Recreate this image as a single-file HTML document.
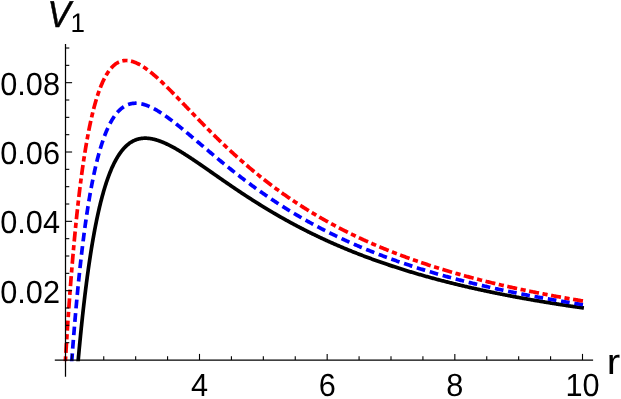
<!DOCTYPE html>
<html><head><meta charset="utf-8"><title>V1</title>
<style>
html,body{margin:0;padding:0;background:#fff;}
body{width:621px;height:399px;overflow:hidden;font-family:"Liberation Sans",sans-serif;}
svg{display:block;}
text{font-family:"Liberation Sans",sans-serif;fill:#000;text-rendering:geometricPrecision;}
</style></head><body>
<svg width="621" height="399" viewBox="0 0 621 399" style="will-change:transform">
<rect width="621" height="399" fill="#fff"/>
<defs><clipPath id="c"><rect x="54.8" y="43" width="540" height="318.3"/></clipPath></defs>

<g clip-path="url(#c)" fill="none" stroke-width="3.7" stroke-linejoin="round">
<path d="M583.90 308.04 L583.00 307.91 L582.10 307.78 L581.20 307.65 L580.30 307.52 L579.41 307.40 L578.51 307.27 L577.61 307.14 L576.71 307.01 L575.82 306.88 L574.92 306.75 L574.03 306.62 L573.13 306.48 L572.24 306.35 L571.35 306.22 L570.45 306.09 L569.56 305.96 L568.67 305.82 L567.78 305.69 L566.89 305.55 L566.00 305.42 L565.11 305.29 L564.22 305.15 L563.33 305.01 L562.45 304.88 L561.56 304.74 L560.68 304.61 L559.79 304.47 L558.91 304.33 L558.02 304.19 L557.14 304.05 L556.25 303.91 L555.37 303.78 L554.49 303.64 L553.61 303.50 L552.73 303.36 L551.85 303.21 L550.97 303.07 L550.09 302.93 L549.21 302.79 L548.34 302.65 L547.46 302.50 L546.58 302.36 L545.71 302.22 L544.83 302.07 L543.96 301.93 L543.09 301.78 L542.21 301.64 L541.34 301.49 L540.47 301.34 L539.60 301.20 L538.73 301.05 L537.86 300.90 L536.99 300.75 L536.12 300.61 L535.25 300.46 L534.38 300.31 L533.52 300.16 L532.65 300.01 L531.78 299.86 L530.92 299.71 L530.05 299.55 L529.19 299.40 L528.33 299.25 L527.47 299.10 L526.60 298.94 L525.74 298.79 L524.88 298.64 L524.02 298.48 L523.16 298.33 L522.30 298.17 L521.44 298.01 L520.59 297.86 L519.73 297.70 L518.87 297.54 L518.02 297.38 L517.16 297.23 L516.31 297.07 L515.45 296.91 L514.60 296.75 L513.75 296.59 L512.90 296.43 L512.05 296.26 L511.19 296.10 L510.34 295.94 L509.50 295.78 L508.65 295.62 L507.80 295.45 L506.95 295.29 L506.10 295.12 L505.26 294.96 L504.41 294.79 L503.57 294.63 L502.72 294.46 L501.88 294.29 L501.03 294.12 L500.19 293.96 L499.35 293.79 L498.51 293.62 L497.67 293.45 L496.83 293.28 L495.99 293.11 L495.15 292.94 L494.31 292.77 L493.47 292.59 L492.64 292.42 L491.80 292.25 L490.96 292.07 L490.13 291.90 L489.30 291.73 L488.46 291.55 L487.63 291.38 L486.80 291.20 L485.96 291.02 L485.13 290.85 L484.30 290.67 L483.47 290.49 L482.64 290.31 L481.81 290.13 L480.99 289.95 L480.16 289.77 L479.33 289.59 L478.51 289.41 L477.68 289.23 L476.86 289.04 L476.03 288.86 L475.21 288.68 L474.38 288.49 L473.56 288.31 L472.74 288.12 L471.92 287.94 L471.10 287.75 L470.28 287.57 L469.46 287.38 L468.64 287.19 L467.82 287.00 L467.01 286.81 L466.19 286.62 L465.37 286.43 L464.56 286.24 L463.74 286.05 L462.93 285.86 L462.12 285.67 L461.30 285.47 L460.49 285.28 L459.68 285.09 L458.87 284.89 L458.06 284.70 L457.25 284.50 L456.44 284.30 L455.63 284.11 L454.83 283.91 L454.02 283.71 L453.21 283.51 L452.41 283.31 L451.60 283.11 L450.80 282.91 L449.99 282.71 L449.19 282.51 L448.39 282.31 L447.59 282.11 L446.79 281.90 L445.99 281.70 L445.19 281.50 L444.39 281.29 L443.59 281.08 L442.79 280.88 L441.99 280.67 L441.20 280.46 L440.40 280.26 L439.61 280.05 L438.81 279.84 L438.02 279.63 L437.22 279.42 L436.43 279.21 L435.64 279.00 L434.85 278.78 L434.06 278.57 L433.27 278.36 L432.48 278.14 L431.69 277.93 L430.90 277.71 L430.11 277.50 L429.33 277.28 L428.54 277.06 L427.76 276.84 L426.97 276.63 L426.19 276.41 L425.40 276.19 L424.62 275.97 L423.84 275.75 L423.06 275.52 L422.28 275.30 L421.50 275.08 L420.72 274.85 L419.94 274.63 L419.16 274.41 L418.38 274.18 L417.61 273.95 L416.83 273.73 L416.05 273.50 L415.28 273.27 L414.51 273.04 L413.73 272.81 L412.96 272.58 L412.19 272.35 L411.42 272.12 L410.64 271.89 L409.87 271.66 L409.11 271.42 L408.34 271.19 L407.57 270.95 L406.80 270.72 L406.03 270.48 L405.27 270.25 L404.50 270.01 L403.74 269.77 L402.97 269.53 L402.21 269.29 L401.45 269.05 L400.69 268.81 L399.92 268.57 L399.16 268.33 L398.40 268.09 L397.64 267.84 L396.88 267.60 L396.13 267.35 L395.37 267.11 L394.61 266.86 L393.86 266.61 L393.10 266.37 L392.35 266.12 L391.59 265.87 L390.84 265.62 L390.09 265.37 L389.33 265.12 L388.58 264.87 L387.83 264.61 L387.08 264.36 L386.33 264.11 L385.59 263.85 L384.84 263.60 L384.09 263.34 L383.34 263.09 L382.60 262.83 L381.85 262.57 L381.11 262.31 L380.36 262.05 L379.62 261.79 L378.88 261.53 L378.14 261.27 L377.40 261.01 L376.66 260.74 L375.92 260.48 L375.18 260.22 L374.44 259.95 L373.70 259.68 L372.96 259.42 L372.23 259.15 L371.49 258.88 L370.76 258.61 L370.02 258.34 L369.29 258.07 L368.56 257.80 L367.82 257.53 L367.09 257.26 L366.36 256.99 L365.63 256.71 L364.90 256.44 L364.17 256.16 L363.45 255.89 L362.72 255.61 L361.99 255.33 L361.27 255.05 L360.54 254.77 L359.82 254.49 L359.09 254.21 L358.37 253.93 L357.65 253.65 L356.93 253.37 L356.20 253.08 L355.48 252.80 L354.76 252.52 L354.05 252.23 L353.33 251.94 L352.61 251.66 L351.89 251.37 L351.18 251.08 L350.46 250.79 L349.75 250.50 L349.03 250.21 L348.32 249.92 L347.61 249.62 L346.89 249.33 L346.18 249.04 L345.47 248.74 L344.76 248.45 L344.05 248.15 L343.35 247.85 L342.64 247.56 L341.93 247.26 L341.22 246.96 L340.52 246.66 L339.81 246.36 L339.11 246.06 L338.41 245.76 L337.70 245.45 L337.00 245.15 L336.30 244.84 L335.60 244.54 L334.90 244.23 L334.20 243.93 L333.50 243.62 L332.80 243.31 L332.11 243.00 L331.41 242.69 L330.72 242.38 L330.02 242.07 L329.33 241.76 L328.63 241.45 L327.94 241.13 L327.25 240.82 L326.56 240.50 L325.87 240.19 L325.18 239.87 L324.49 239.55 L323.80 239.24 L323.11 238.92 L322.42 238.60 L321.74 238.28 L321.05 237.96 L320.37 237.64 L319.68 237.31 L319.00 236.99 L318.32 236.67 L317.63 236.34 L316.95 236.02 L316.27 235.69 L315.59 235.36 L314.91 235.04 L314.24 234.71 L313.56 234.38 L312.88 234.05 L312.21 233.72 L311.53 233.39 L310.85 233.05 L310.18 232.72 L309.51 232.39 L308.84 232.05 L308.16 231.72 L307.49 231.38 L306.82 231.05 L306.15 230.71 L305.48 230.37 L304.82 230.03 L304.15 229.69 L303.48 229.35 L302.82 229.01 L302.15 228.67 L301.49 228.33 L300.82 227.99 L300.16 227.64 L299.50 227.30 L298.84 226.95 L298.17 226.61 L297.51 226.26 L296.86 225.92 L296.20 225.57 L295.54 225.22 L294.88 224.87 L294.23 224.52 L293.57 224.17 L292.92 223.82 L292.26 223.47 L291.61 223.11 L290.95 222.76 L290.30 222.41 L289.65 222.05 L289.00 221.70 L288.35 221.34 L287.70 220.98 L287.06 220.63 L286.41 220.27 L285.76 219.91 L285.12 219.55 L284.47 219.19 L283.83 218.83 L283.18 218.47 L282.54 218.11 L281.90 217.75 L281.26 217.38 L280.62 217.02 L279.98 216.65 L279.34 216.29 L278.70 215.92 L278.06 215.56 L277.42 215.19 L276.79 214.82 L276.15 214.46 L275.52 214.09 L274.88 213.72 L274.25 213.35 L273.62 212.98 L272.99 212.61 L272.36 212.24 L271.73 211.86 L271.10 211.49 L270.47 211.12 L269.84 210.75 L269.21 210.37 L268.59 210.00 L267.96 209.62 L267.34 209.25 L266.71 208.87 L266.09 208.49 L265.47 208.12 L264.85 207.74 L264.23 207.36 L263.61 206.98 L262.99 206.60 L262.37 206.22 L261.75 205.84 L261.13 205.46 L260.52 205.08 L259.90 204.70 L259.29 204.32 L258.67 203.93 L258.06 203.55 L257.45 203.17 L256.84 202.78 L256.23 202.40 L255.62 202.01 L255.01 201.63 L254.40 201.24 L253.79 200.86 L253.18 200.47 L252.58 200.09 L251.97 199.70 L251.37 199.31 L250.76 198.92 L250.16 198.54 L249.56 198.15 L248.96 197.76 L248.36 197.37 L247.76 196.98 L247.16 196.59 L246.56 196.20 L245.96 195.81 L245.37 195.42 L244.77 195.03 L244.18 194.64 L243.58 194.25 L242.99 193.86 L242.40 193.47 L241.80 193.08 L241.21 192.69 L240.62 192.29 L240.03 191.90 L239.44 191.51 L238.86 191.12 L238.27 190.73 L237.68 190.33 L237.10 189.94 L236.51 189.55 L235.93 189.15 L235.35 188.76 L234.76 188.37 L234.18 187.98 L233.60 187.58 L233.02 187.19 L232.44 186.80 L231.86 186.40 L231.29 186.01 L230.71 185.62 L230.14 185.22 L229.56 184.83 L228.99 184.44 L228.41 184.04 L227.84 183.65 L227.27 183.26 L226.70 182.87 L226.13 182.47 L225.56 182.08 L224.99 181.69 L224.42 181.30 L223.86 180.91 L223.29 180.52 L222.72 180.12 L222.16 179.73 L221.60 179.34 L221.03 178.95 L220.47 178.56 L219.91 178.17 L219.35 177.78 L218.79 177.39 L218.23 177.00 L217.67 176.62 L217.12 176.23 L216.56 175.84 L216.01 175.45 L215.45 175.07 L214.90 174.68 L214.34 174.29 L213.79 173.91 L213.24 173.52 L212.69 173.14 L212.14 172.76 L211.59 172.37 L211.05 171.99 L210.50 171.61 L209.95 171.23 L209.41 170.85 L208.86 170.47 L208.32 170.09 L207.78 169.71 L207.23 169.33 L206.69 168.96 L206.15 168.58 L205.61 168.21 L205.08 167.83 L204.54 167.46 L204.00 167.09 L203.46 166.71 L202.93 166.34 L202.40 165.97 L201.86 165.61 L201.33 165.24 L200.80 164.87 L200.27 164.51 L199.74 164.14 L199.21 163.78 L198.68 163.41 L198.15 163.05 L197.63 162.69 L197.10 162.33 L196.57 161.98 L196.05 161.62 L195.53 161.27 L195.01 160.91 L194.48 160.56 L193.96 160.21 L193.44 159.86 L192.93 159.51 L192.41 159.17 L191.89 158.82 L191.37 158.48 L190.86 158.13 L190.34 157.79 L189.83 157.46 L189.32 157.12 L188.81 156.78 L188.30 156.45 L187.79 156.12 L187.28 155.79 L186.77 155.46 L186.26 155.13 L185.75 154.81 L185.25 154.48 L184.74 154.16 L184.24 153.84 L183.74 153.53 L183.23 153.21 L182.73 152.90 L182.23 152.59 L181.73 152.28 L181.23 151.97 L180.74 151.67 L180.24 151.37 L179.74 151.07 L179.25 150.77 L178.75 150.47 L178.26 150.18 L177.77 149.89 L177.28 149.60 L176.79 149.32 L176.30 149.03 L175.81 148.75 L175.32 148.48 L174.83 148.20 L174.35 147.93 L173.86 147.66 L173.38 147.39 L172.90 147.13 L172.41 146.87 L171.93 146.61 L171.45 146.35 L170.97 146.10 L170.49 145.85 L170.02 145.61 L169.54 145.36 L169.06 145.12 L168.59 144.89 L168.11 144.65 L167.64 144.42 L167.17 144.20 L166.70 143.97 L166.23 143.75 L165.76 143.54 L165.29 143.32 L164.82 143.12 L164.35 142.91 L163.89 142.71 L163.42 142.51 L162.96 142.31 L162.50 142.12 L162.04 141.94 L161.57 141.75 L161.11 141.57 L160.65 141.40 L160.20 141.23 L159.74 141.06 L159.28 140.90 L158.83 140.74 L158.37 140.58 L157.92 140.43 L157.47 140.29 L157.02 140.15 L156.56 140.01 L156.12 139.88 L155.67 139.75 L155.22 139.63 L154.77 139.51 L154.33 139.39 L153.88 139.28 L153.44 139.18 L152.99 139.08 L152.55 138.99 L152.11 138.90 L151.67 138.81 L151.23 138.73 L150.79 138.66 L150.36 138.59 L149.92 138.52 L149.49 138.47 L149.05 138.41 L148.62 138.37 L148.19 138.32 L147.75 138.29 L147.32 138.26 L146.89 138.23 L146.47 138.21 L146.04 138.20 L145.61 138.19 L145.19 138.19 L144.76 138.19 L144.34 138.20 L143.92 138.22 L143.50 138.24 L143.07 138.27 L142.66 138.30 L142.24 138.34 L141.82 138.39 L141.40 138.44 L140.99 138.50 L140.57 138.57 L140.16 138.64 L139.75 138.72 L139.34 138.81 L138.93 138.90 L138.52 139.00 L138.11 139.11 L137.70 139.22 L137.29 139.34 L136.89 139.47 L136.49 139.61 L136.08 139.75 L135.68 139.90 L135.28 140.06 L134.88 140.22 L134.48 140.39 L134.08 140.57 L133.68 140.76 L133.29 140.96 L132.89 141.16 L132.50 141.37 L132.11 141.59 L131.72 141.81 L131.32 142.05 L130.94 142.29 L130.55 142.54 L130.16 142.80 L129.77 143.06 L129.39 143.34 L129.00 143.62 L128.62 143.91 L128.24 144.21 L127.86 144.52 L127.48 144.84 L127.10 145.17 L126.72 145.50 L126.34 145.84 L125.97 146.20 L125.59 146.56 L125.22 146.93 L124.84 147.30 L124.47 147.69 L124.10 148.09 L123.73 148.50 L123.37 148.91 L123.00 149.33 L122.63 149.77 L122.27 150.21 L121.90 150.66 L121.54 151.13 L121.18 151.60 L120.82 152.08 L120.46 152.57 L120.10 153.07 L119.74 153.58 L119.39 154.10 L119.03 154.63 L118.68 155.17 L118.32 155.72 L117.97 156.28 L117.62 156.85 L117.27 157.43 L116.93 158.02 L116.58 158.62 L116.23 159.23 L115.89 159.85 L115.54 160.48 L115.20 161.12 L114.86 161.77 L114.52 162.43 L114.18 163.10 L113.84 163.79 L113.51 164.48 L113.17 165.18 L112.84 165.90 L112.50 166.62 L112.17 167.36 L111.84 168.10 L111.51 168.86 L111.18 169.63 L110.85 170.41 L110.53 171.19 L110.20 171.99 L109.88 172.80 L109.55 173.63 L109.23 174.46 L108.91 175.30 L108.59 176.15 L108.28 177.02 L107.96 177.90 L107.64 178.78 L107.33 179.68 L107.02 180.59 L106.70 181.51 L106.39 182.44 L106.08 183.38 L105.78 184.33 L105.47 185.29 L105.16 186.27 L104.86 187.25 L104.56 188.25 L104.25 189.25 L103.95 190.27 L103.65 191.30 L103.36 192.34 L103.06 193.39 L102.76 194.45 L102.47 195.52 L102.17 196.60 L101.88 197.70 L101.59 198.80 L101.30 199.92 L101.01 201.04 L100.73 202.18 L100.44 203.32 L100.16 204.48 L99.88 205.65 L99.59 206.82 L99.31 208.01 L99.03 209.21 L98.76 210.42 L98.48 211.64 L98.20 212.86 L97.93 214.10 L97.66 215.35 L97.39 216.61 L97.12 217.88 L96.85 219.16 L96.58 220.44 L96.32 221.74 L96.05 223.05 L95.79 224.36 L95.53 225.69 L95.27 227.02 L95.01 228.37 L94.75 229.72 L94.50 231.08 L94.24 232.45 L93.99 233.83 L93.74 235.21 L93.49 236.61 L93.24 238.01 L92.99 239.42 L92.74 240.84 L92.50 242.27 L92.25 243.70 L92.01 245.14 L91.77 246.59 L91.53 248.05 L91.30 249.51 L91.06 250.98 L90.83 252.46 L90.59 253.94 L90.36 255.43 L90.13 256.93 L89.90 258.43 L89.67 259.94 L89.45 261.45 L89.22 262.97 L89.00 264.49 L88.78 266.02 L88.56 267.55 L88.34 269.09 L88.13 270.63 L87.91 272.18 L87.70 273.72 L87.49 275.28 L87.28 276.83 L87.07 278.39 L86.86 279.95 L86.66 281.51 L86.45 283.08 L86.25 284.65 L86.05 286.22 L85.85 287.78 L85.65 289.36 L85.46 290.93 L85.26 292.50 L85.07 294.07 L84.88 295.64 L84.69 297.21 L84.51 298.78 L84.32 300.35 L84.14 301.92 L83.95 303.48 L83.77 305.04 L83.60 306.60 L83.42 308.16 L83.24 309.71 L83.07 311.26 L82.90 312.81 L82.73 314.35 L82.56 315.88 L82.40 317.41 L82.23 318.93 L82.07 320.45 L81.91 321.96 L81.75 323.46 L81.60 324.95 L81.44 326.44 L81.29 327.92 L81.14 329.39 L80.99 330.85 L80.85 332.29 L80.70 333.73 L80.56 335.16 L80.42 336.57 L80.28 337.97 L80.15 339.36 L80.01 340.74 L79.88 342.10 L79.75 343.45 L79.62 344.78 L79.50 346.10 L79.37 347.40 L79.25 348.68 L79.14 349.94 L79.02 351.19 L78.91 352.42 L78.80 353.62 L78.69 354.81 L78.58 355.97 L78.48 357.11 L78.38 358.23 L78.28 359.33 L78.18 360.40 L78.09 361.44 L78.00 362.46 L77.91 363.45 L77.82 364.41 L77.74 365.35 L77.66 366.25 L77.59 367.11 L77.52 367.95 L77.45 368.75 L77.38 369.51 L77.32 370.24 L77.26 370.92 L77.20 371.56 L77.15 372.16 L77.11 372.70 L77.06 373.20 L77.03 373.64 L77.00 374.02 L76.97 374.33 L76.95 374.56 L76.94 374.67" stroke="#000"/>
<path d="M583.27 304.65 L582.35 304.51 L581.44 304.38 L580.53 304.24 L579.62 304.10 L578.72 303.96 L577.81 303.82 L576.90 303.67 L575.99 303.53 L575.09 303.39 L574.18 303.25 L573.28 303.11 L572.37 302.96 L571.47 302.82 L570.56 302.68 L569.66 302.53 L568.76 302.39 L567.86 302.24 L566.96 302.10 L566.06 301.95 L565.16 301.80 L564.26 301.66 L563.36 301.51 L562.46 301.36 L561.57 301.21 L560.67 301.06 L559.77 300.92 L558.88 300.77 L557.98 300.62 L557.09 300.47 L556.20 300.31 L555.30 300.16 L554.41 300.01 L553.52 299.86 L552.63 299.71 L551.74 299.55 L550.85 299.40 L549.96 299.24 L549.07 299.09 L548.18 298.93 L547.30 298.78 L546.41 298.62 L545.52 298.47 L544.64 298.31 L543.75 298.15 L542.87 297.99 L541.98 297.83 L541.10 297.68 L540.22 297.52 L539.34 297.36 L538.46 297.20 L537.58 297.04 L536.70 296.87 L535.82 296.71 L534.94 296.55 L534.06 296.39 L533.18 296.22 L532.31 296.06 L531.43 295.89 L530.56 295.73 L529.68 295.56 L528.81 295.40 L527.93 295.23 L527.06 295.07 L526.19 294.90 L525.32 294.73 L524.44 294.56 L523.57 294.39 L522.70 294.22 L521.84 294.05 L520.97 293.88 L520.10 293.71 L519.23 293.54 L518.36 293.37 L517.50 293.20 L516.63 293.02 L515.77 292.85 L514.90 292.67 L514.04 292.50 L513.18 292.32 L512.32 292.15 L511.45 291.97 L510.59 291.80 L509.73 291.62 L508.87 291.44 L508.01 291.26 L507.16 291.08 L506.30 290.90 L505.44 290.72 L504.58 290.54 L503.73 290.36 L502.87 290.18 L502.02 290.00 L501.16 289.81 L500.31 289.63 L499.46 289.45 L498.60 289.26 L497.75 289.08 L496.90 288.89 L496.05 288.71 L495.20 288.52 L494.35 288.33 L493.51 288.14 L492.66 287.95 L491.81 287.77 L490.96 287.58 L490.12 287.39 L489.27 287.19 L488.43 287.00 L487.58 286.81 L486.74 286.62 L485.90 286.42 L485.06 286.23 L484.22 286.04 L483.38 285.84 L482.54 285.65 L481.70 285.45 L480.86 285.25 L480.02 285.06 L479.18 284.86 L478.34 284.66 L477.51 284.46 L476.67 284.26 L475.84 284.06 L475.00 283.86 L474.17 283.66 L473.34 283.45 L472.51 283.25 L471.67 283.05 L470.84 282.84 L470.01 282.64 L469.18 282.43 L468.35 282.23 L467.52 282.02 L466.70 281.81 L465.87 281.61 L465.04 281.40 L464.22 281.19 L463.39 280.98 L462.57 280.77 L461.74 280.56 L460.92 280.35 L460.10 280.13 L459.28 279.92 L458.46 279.71 L457.63 279.49 L456.81 279.28 L456.00 279.06 L455.18 278.84 L454.36 278.63 L453.54 278.41 L452.72 278.19 L451.91 277.97 L451.09 277.75 L450.28 277.53 L449.46 277.31 L448.65 277.09 L447.84 276.87 L447.03 276.65 L446.21 276.42 L445.40 276.20 L444.59 275.97 L443.78 275.75 L442.97 275.52 L442.17 275.29 L441.36 275.06 L440.55 274.84 L439.75 274.61 L438.94 274.38 L438.14 274.15 L437.33 273.92 L436.53 273.68 L435.73 273.45 L434.92 273.22 L434.12 272.98 L433.32 272.75 L432.52 272.51 L431.72 272.28 L430.92 272.04 L430.12 271.80 L429.33 271.56 L428.53 271.32 L427.73 271.08 L426.94 270.84 L426.14 270.60 L425.35 270.36 L424.55 270.12 L423.76 269.87 L422.97 269.63 L422.18 269.39 L421.39 269.14 L420.60 268.89 L419.81 268.65 L419.02 268.40 L418.23 268.15 L417.44 267.90 L416.65 267.65 L415.87 267.40 L415.08 267.15 L414.30 266.89 L413.51 266.64 L412.73 266.39 L411.95 266.13 L411.17 265.88 L410.38 265.62 L409.60 265.36 L408.82 265.11 L408.04 264.85 L407.26 264.59 L406.49 264.33 L405.71 264.07 L404.93 263.81 L404.16 263.54 L403.38 263.28 L402.61 263.02 L401.83 262.75 L401.06 262.49 L400.28 262.22 L399.51 261.95 L398.74 261.68 L397.97 261.41 L397.20 261.15 L396.43 260.87 L395.66 260.60 L394.89 260.33 L394.13 260.06 L393.36 259.79 L392.59 259.51 L391.83 259.24 L391.06 258.96 L390.30 258.68 L389.54 258.40 L388.78 258.13 L388.01 257.85 L387.25 257.57 L386.49 257.29 L385.73 257.00 L384.97 256.72 L384.21 256.44 L383.46 256.15 L382.70 255.87 L381.94 255.58 L381.19 255.30 L380.43 255.01 L379.68 254.72 L378.92 254.43 L378.17 254.14 L377.42 253.85 L376.67 253.56 L375.92 253.26 L375.17 252.97 L374.42 252.68 L373.67 252.38 L372.92 252.08 L372.17 251.79 L371.43 251.49 L370.68 251.19 L369.94 250.89 L369.19 250.59 L368.45 250.29 L367.70 249.99 L366.96 249.68 L366.22 249.38 L365.48 249.08 L364.74 248.77 L364.00 248.46 L363.26 248.16 L362.52 247.85 L361.78 247.54 L361.05 247.23 L360.31 246.92 L359.57 246.60 L358.84 246.29 L358.11 245.98 L357.37 245.66 L356.64 245.35 L355.91 245.03 L355.18 244.71 L354.45 244.40 L353.72 244.08 L352.99 243.76 L352.26 243.44 L351.53 243.12 L350.80 242.79 L350.08 242.47 L349.35 242.14 L348.63 241.82 L347.90 241.49 L347.18 241.17 L346.45 240.84 L345.73 240.51 L345.01 240.18 L344.29 239.85 L343.57 239.52 L342.85 239.18 L342.13 238.85 L341.41 238.52 L340.70 238.18 L339.98 237.84 L339.27 237.51 L338.55 237.17 L337.84 236.83 L337.12 236.49 L336.41 236.15 L335.70 235.81 L334.99 235.46 L334.28 235.12 L333.57 234.78 L332.86 234.43 L332.15 234.08 L331.44 233.74 L330.73 233.39 L330.03 233.04 L329.32 232.69 L328.62 232.34 L327.91 231.98 L327.21 231.63 L326.51 231.28 L325.80 230.92 L325.10 230.57 L324.40 230.21 L323.70 229.85 L323.00 229.49 L322.30 229.13 L321.61 228.77 L320.91 228.41 L320.21 228.05 L319.52 227.69 L318.82 227.32 L318.13 226.96 L317.43 226.59 L316.74 226.22 L316.05 225.86 L315.36 225.49 L314.67 225.12 L313.98 224.75 L313.29 224.37 L312.60 224.00 L311.91 223.63 L311.23 223.25 L310.54 222.88 L309.86 222.50 L309.17 222.12 L308.49 221.75 L307.80 221.37 L307.12 220.99 L306.44 220.61 L305.76 220.22 L305.08 219.84 L304.40 219.46 L303.72 219.07 L303.04 218.69 L302.37 218.30 L301.69 217.91 L301.01 217.52 L300.34 217.13 L299.67 216.74 L298.99 216.35 L298.32 215.96 L297.65 215.57 L296.98 215.17 L296.31 214.78 L295.64 214.38 L294.97 213.98 L294.30 213.59 L293.63 213.19 L292.96 212.79 L292.30 212.39 L291.63 211.99 L290.97 211.58 L290.30 211.18 L289.64 210.78 L288.98 210.37 L288.32 209.96 L287.66 209.56 L287.00 209.15 L286.34 208.74 L285.68 208.33 L285.02 207.92 L284.36 207.51 L283.71 207.10 L283.05 206.68 L282.40 206.27 L281.74 205.85 L281.09 205.44 L280.44 205.02 L279.79 204.60 L279.14 204.19 L278.49 203.77 L277.84 203.35 L277.19 202.93 L276.54 202.50 L275.89 202.08 L275.25 201.66 L274.60 201.23 L273.96 200.81 L273.31 200.38 L272.67 199.95 L272.03 199.53 L271.38 199.10 L270.74 198.67 L270.10 198.24 L269.46 197.81 L268.82 197.38 L268.19 196.94 L267.55 196.51 L266.91 196.08 L266.28 195.64 L265.64 195.20 L265.01 194.77 L264.38 194.33 L263.74 193.89 L263.11 193.45 L262.48 193.01 L261.85 192.57 L261.22 192.13 L260.59 191.69 L259.96 191.25 L259.34 190.80 L258.71 190.36 L258.09 189.92 L257.46 189.47 L256.84 189.02 L256.21 188.58 L255.59 188.13 L254.97 187.68 L254.35 187.23 L253.73 186.78 L253.11 186.33 L252.49 185.88 L251.87 185.43 L251.26 184.98 L250.64 184.52 L250.03 184.07 L249.41 183.62 L248.80 183.16 L248.18 182.70 L247.57 182.25 L246.96 181.79 L246.35 181.33 L245.74 180.88 L245.13 180.42 L244.52 179.96 L243.92 179.50 L243.31 179.04 L242.70 178.58 L242.10 178.12 L241.50 177.66 L240.89 177.19 L240.29 176.73 L239.69 176.27 L239.09 175.80 L238.49 175.34 L237.89 174.88 L237.29 174.41 L236.69 173.95 L236.09 173.48 L235.50 173.01 L234.90 172.55 L234.31 172.08 L233.71 171.61 L233.12 171.14 L232.53 170.68 L231.94 170.21 L231.35 169.74 L230.76 169.27 L230.17 168.80 L229.58 168.33 L228.99 167.86 L228.41 167.39 L227.82 166.92 L227.24 166.45 L226.65 165.98 L226.07 165.51 L225.49 165.04 L224.91 164.56 L224.33 164.09 L223.75 163.62 L223.17 163.15 L222.59 162.68 L222.01 162.20 L221.43 161.73 L220.86 161.26 L220.28 160.79 L219.71 160.31 L219.14 159.84 L218.56 159.37 L217.99 158.90 L217.42 158.42 L216.85 157.95 L216.28 157.48 L215.71 157.01 L215.15 156.53 L214.58 156.06 L214.01 155.59 L213.45 155.12 L212.89 154.65 L212.32 154.18 L211.76 153.70 L211.20 153.23 L210.64 152.76 L210.08 152.29 L209.52 151.82 L208.96 151.35 L208.40 150.88 L207.85 150.41 L207.29 149.94 L206.74 149.47 L206.18 149.01 L205.63 148.54 L205.08 148.07 L204.53 147.60 L203.97 147.14 L203.42 146.67 L202.88 146.21 L202.33 145.74 L201.78 145.28 L201.23 144.82 L200.69 144.35 L200.14 143.89 L199.60 143.43 L199.06 142.97 L198.52 142.51 L197.97 142.05 L197.43 141.59 L196.89 141.13 L196.36 140.68 L195.82 140.22 L195.28 139.77 L194.75 139.31 L194.21 138.86 L193.68 138.41 L193.14 137.96 L192.61 137.51 L192.08 137.06 L191.55 136.61 L191.02 136.16 L190.49 135.72 L189.96 135.27 L189.43 134.83 L188.91 134.39 L188.38 133.95 L187.86 133.51 L187.33 133.07 L186.81 132.64 L186.29 132.20 L185.77 131.77 L185.25 131.34 L184.73 130.91 L184.21 130.48 L183.69 130.05 L183.17 129.62 L182.66 129.20 L182.14 128.78 L181.63 128.36 L181.12 127.94 L180.60 127.52 L180.09 127.11 L179.58 126.69 L179.07 126.28 L178.56 125.87 L178.06 125.47 L177.55 125.06 L177.04 124.66 L176.54 124.26 L176.03 123.86 L175.53 123.46 L175.03 123.07 L174.53 122.68 L174.03 122.29 L173.53 121.90 L173.03 121.52 L172.53 121.13 L172.03 120.75 L171.54 120.38 L171.04 120.00 L170.55 119.63 L170.05 119.26 L169.56 118.90 L169.07 118.53 L168.58 118.17 L168.09 117.81 L167.60 117.46 L167.11 117.11 L166.63 116.76 L166.14 116.41 L165.65 116.07 L165.17 115.73 L164.69 115.39 L164.20 115.06 L163.72 114.73 L163.24 114.40 L162.76 114.08 L162.29 113.76 L161.81 113.45 L161.33 113.13 L160.86 112.82 L160.38 112.52 L159.91 112.22 L159.43 111.92 L158.96 111.63 L158.49 111.34 L158.02 111.05 L157.55 110.77 L157.08 110.49 L156.62 110.22 L156.15 109.95 L155.68 109.69 L155.22 109.43 L154.76 109.17 L154.29 108.92 L153.83 108.67 L153.37 108.43 L152.91 108.19 L152.45 107.96 L152.00 107.73 L151.54 107.51 L151.08 107.29 L150.63 107.07 L150.18 106.86 L149.72 106.66 L149.27 106.46 L148.82 106.27 L148.37 106.08 L147.92 105.90 L147.47 105.72 L147.03 105.55 L146.58 105.38 L146.13 105.22 L145.69 105.06 L145.25 104.92 L144.81 104.77 L144.36 104.63 L143.92 104.50 L143.48 104.38 L143.05 104.26 L142.61 104.14 L142.17 104.04 L141.74 103.93 L141.30 103.84 L140.87 103.75 L140.44 103.67 L140.01 103.60 L139.58 103.53 L139.15 103.46 L138.72 103.41 L138.29 103.36 L137.87 103.32 L137.44 103.29 L137.02 103.26 L136.59 103.24 L136.17 103.23 L135.75 103.22 L135.33 103.22 L134.91 103.23 L134.49 103.25 L134.08 103.28 L133.66 103.31 L133.25 103.35 L132.83 103.40 L132.42 103.45 L132.01 103.52 L131.60 103.59 L131.19 103.67 L130.78 103.76 L130.37 103.86 L129.96 103.96 L129.56 104.08 L129.15 104.20 L128.75 104.33 L128.35 104.47 L127.94 104.62 L127.54 104.78 L127.14 104.95 L126.75 105.12 L126.35 105.31 L125.95 105.50 L125.56 105.70 L125.16 105.92 L124.77 106.14 L124.38 106.37 L123.99 106.61 L123.60 106.86 L123.21 107.12 L122.82 107.40 L122.43 107.68 L122.05 107.97 L121.66 108.27 L121.28 108.58 L120.90 108.90 L120.52 109.23 L120.14 109.57 L119.76 109.93 L119.38 110.29 L119.00 110.66 L118.63 111.05 L118.25 111.44 L117.88 111.85 L117.51 112.27 L117.14 112.69 L116.77 113.13 L116.40 113.58 L116.03 114.05 L115.66 114.52 L115.30 115.00 L114.93 115.50 L114.57 116.01 L114.21 116.53 L113.84 117.06 L113.48 117.60 L113.13 118.15 L112.77 118.72 L112.41 119.30 L112.05 119.89 L111.70 120.49 L111.35 121.10 L110.99 121.73 L110.64 122.37 L110.29 123.02 L109.95 123.68 L109.60 124.36 L109.25 125.05 L108.91 125.75 L108.56 126.47 L108.22 127.19 L107.88 127.93 L107.54 128.68 L107.20 129.45 L106.86 130.23 L106.52 131.02 L106.19 131.82 L105.85 132.64 L105.52 133.47 L105.18 134.31 L104.85 135.17 L104.52 136.04 L104.19 136.92 L103.87 137.82 L103.54 138.73 L103.22 139.65 L102.89 140.59 L102.57 141.54 L102.25 142.50 L101.93 143.48 L101.61 144.47 L101.29 145.47 L100.97 146.49 L100.66 147.52 L100.34 148.57 L100.03 149.63 L99.72 150.70 L99.41 151.79 L99.10 152.88 L98.79 154.00 L98.49 155.12 L98.18 156.27 L97.88 157.42 L97.57 158.59 L97.27 159.77 L96.97 160.96 L96.67 162.17 L96.37 163.40 L96.08 164.63 L95.78 165.88 L95.49 167.14 L95.20 168.42 L94.90 169.71 L94.61 171.01 L94.33 172.33 L94.04 173.66 L93.75 175.01 L93.47 176.36 L93.18 177.73 L92.90 179.12 L92.62 180.51 L92.34 181.92 L92.06 183.34 L91.79 184.78 L91.51 186.23 L91.24 187.69 L90.96 189.16 L90.69 190.65 L90.42 192.15 L90.15 193.66 L89.89 195.18 L89.62 196.72 L89.36 198.26 L89.09 199.82 L88.83 201.40 L88.57 202.98 L88.31 204.57 L88.05 206.18 L87.80 207.80 L87.54 209.43 L87.29 211.07 L87.04 212.72 L86.79 214.38 L86.54 216.05 L86.29 217.73 L86.04 219.43 L85.80 221.13 L85.56 222.84 L85.32 224.56 L85.08 226.29 L84.84 228.04 L84.60 229.79 L84.36 231.54 L84.13 233.31 L83.90 235.09 L83.67 236.87 L83.44 238.66 L83.21 240.46 L82.98 242.27 L82.76 244.09 L82.53 245.91 L82.31 247.74 L82.09 249.57 L81.87 251.41 L81.65 253.26 L81.44 255.11 L81.22 256.97 L81.01 258.83 L80.80 260.70 L80.59 262.57 L80.38 264.44 L80.18 266.32 L79.97 268.20 L79.77 270.09 L79.57 271.97 L79.37 273.86 L79.17 275.75 L78.98 277.65 L78.78 279.54 L78.59 281.43 L78.40 283.33 L78.21 285.22 L78.02 287.12 L77.83 289.01 L77.65 290.90 L77.47 292.79 L77.29 294.68 L77.11 296.56 L76.93 298.44 L76.76 300.32 L76.58 302.19 L76.41 304.06 L76.24 305.92 L76.08 307.78 L75.91 309.63 L75.75 311.47 L75.59 313.30 L75.43 315.13 L75.27 316.95 L75.11 318.76 L74.96 320.56 L74.81 322.35 L74.66 324.12 L74.51 325.89 L74.36 327.64 L74.22 329.38 L74.08 331.11 L73.94 332.82 L73.80 334.52 L73.66 336.20 L73.53 337.87 L73.40 339.51 L73.27 341.14 L73.14 342.75 L73.02 344.34 L72.90 345.92 L72.78 347.46 L72.66 348.99 L72.55 350.50 L72.43 351.97 L72.32 353.43 L72.22 354.86 L72.11 356.26 L72.01 357.63 L71.91 358.98 L71.81 360.29 L71.72 361.58 L71.63 362.83 L71.54 364.05 L71.45 365.23 L71.37 366.37 L71.29 367.48 L71.21 368.55 L71.14 369.58 L71.07 370.56 L71.00 371.50 L70.94 372.39 L70.88 373.23 L70.82 374.02 L70.77 374.76 L70.73 375.44 L70.68 376.05 L70.65 376.59 L70.61 377.06 L70.59 377.44 L70.57 377.72 L70.56 377.86" stroke="#0000ff" stroke-dasharray="8.7 4.77" stroke-dashoffset="-0.3"/>
<path d="M583.27 301.01 L582.34 300.86 L581.42 300.71 L580.50 300.56 L579.58 300.41 L578.66 300.25 L577.74 300.10 L576.82 299.95 L575.90 299.79 L574.99 299.64 L574.07 299.48 L573.15 299.33 L572.24 299.17 L571.32 299.02 L570.41 298.86 L569.49 298.70 L568.58 298.55 L567.67 298.39 L566.75 298.23 L565.84 298.07 L564.93 297.91 L564.02 297.75 L563.11 297.59 L562.20 297.43 L561.30 297.26 L560.39 297.10 L559.48 296.94 L558.57 296.78 L557.67 296.61 L556.76 296.45 L555.86 296.28 L554.96 296.12 L554.05 295.95 L553.15 295.79 L552.25 295.62 L551.35 295.45 L550.44 295.28 L549.54 295.12 L548.64 294.95 L547.75 294.78 L546.85 294.61 L545.95 294.44 L545.05 294.26 L544.16 294.09 L543.26 293.92 L542.37 293.75 L541.47 293.58 L540.58 293.40 L539.68 293.23 L538.79 293.05 L537.90 292.88 L537.01 292.70 L536.12 292.52 L535.23 292.35 L534.34 292.17 L533.45 291.99 L532.56 291.81 L531.67 291.63 L530.79 291.45 L529.90 291.27 L529.01 291.09 L528.13 290.91 L527.24 290.73 L526.36 290.54 L525.48 290.36 L524.59 290.18 L523.71 289.99 L522.83 289.81 L521.95 289.62 L521.07 289.44 L520.19 289.25 L519.31 289.06 L518.43 288.87 L517.56 288.68 L516.68 288.50 L515.80 288.31 L514.93 288.12 L514.05 287.92 L513.18 287.73 L512.31 287.54 L511.43 287.35 L510.56 287.15 L509.69 286.96 L508.82 286.77 L507.95 286.57 L507.08 286.37 L506.21 286.18 L505.34 285.98 L504.47 285.78 L503.60 285.58 L502.74 285.39 L501.87 285.19 L501.01 284.99 L500.14 284.78 L499.28 284.58 L498.41 284.38 L497.55 284.18 L496.69 283.97 L495.83 283.77 L494.97 283.57 L494.11 283.36 L493.25 283.15 L492.39 282.95 L491.53 282.74 L490.67 282.53 L489.81 282.32 L488.96 282.11 L488.10 281.90 L487.25 281.69 L486.39 281.48 L485.54 281.27 L484.69 281.06 L483.83 280.84 L482.98 280.63 L482.13 280.41 L481.28 280.20 L480.43 279.98 L479.58 279.77 L478.73 279.55 L477.89 279.33 L477.04 279.11 L476.19 278.89 L475.35 278.67 L474.50 278.45 L473.66 278.23 L472.81 278.01 L471.97 277.78 L471.13 277.56 L470.28 277.34 L469.44 277.11 L468.60 276.88 L467.76 276.66 L466.92 276.43 L466.08 276.20 L465.25 275.97 L464.41 275.74 L463.57 275.51 L462.74 275.28 L461.90 275.05 L461.07 274.82 L460.23 274.58 L459.40 274.35 L458.56 274.12 L457.73 273.88 L456.90 273.64 L456.07 273.41 L455.24 273.17 L454.41 272.93 L453.58 272.69 L452.75 272.45 L451.93 272.21 L451.10 271.97 L450.27 271.73 L449.45 271.48 L448.62 271.24 L447.80 271.00 L446.97 270.75 L446.15 270.50 L445.33 270.26 L444.51 270.01 L443.69 269.76 L442.87 269.51 L442.05 269.26 L441.23 269.01 L440.41 268.76 L439.59 268.51 L438.78 268.25 L437.96 268.00 L437.14 267.74 L436.33 267.49 L435.51 267.23 L434.70 266.97 L433.89 266.72 L433.08 266.46 L432.26 266.20 L431.45 265.94 L430.64 265.67 L429.83 265.41 L429.02 265.15 L428.22 264.88 L427.41 264.62 L426.60 264.35 L425.80 264.09 L424.99 263.82 L424.19 263.55 L423.38 263.28 L422.58 263.01 L421.78 262.74 L420.97 262.47 L420.17 262.20 L419.37 261.93 L418.57 261.65 L417.77 261.38 L416.97 261.10 L416.17 260.82 L415.38 260.55 L414.58 260.27 L413.78 259.99 L412.99 259.71 L412.19 259.43 L411.40 259.14 L410.61 258.86 L409.81 258.58 L409.02 258.29 L408.23 258.01 L407.44 257.72 L406.65 257.43 L405.86 257.14 L405.07 256.85 L404.29 256.56 L403.50 256.27 L402.71 255.98 L401.93 255.69 L401.14 255.39 L400.36 255.10 L399.57 254.80 L398.79 254.51 L398.01 254.21 L397.23 253.91 L396.44 253.61 L395.66 253.31 L394.88 253.01 L394.11 252.71 L393.33 252.40 L392.55 252.10 L391.77 251.79 L391.00 251.49 L390.22 251.18 L389.45 250.87 L388.67 250.56 L387.90 250.25 L387.13 249.94 L386.35 249.63 L385.58 249.32 L384.81 249.00 L384.04 248.69 L383.27 248.37 L382.50 248.06 L381.74 247.74 L380.97 247.42 L380.20 247.10 L379.44 246.78 L378.67 246.46 L377.91 246.13 L377.14 245.81 L376.38 245.49 L375.62 245.16 L374.86 244.83 L374.10 244.51 L373.34 244.18 L372.58 243.85 L371.82 243.52 L371.06 243.18 L370.30 242.85 L369.55 242.52 L368.79 242.18 L368.03 241.85 L367.28 241.51 L366.53 241.17 L365.77 240.83 L365.02 240.49 L364.27 240.15 L363.52 239.81 L362.77 239.46 L362.02 239.12 L361.27 238.77 L360.52 238.43 L359.77 238.08 L359.03 237.73 L358.28 237.38 L357.53 237.03 L356.79 236.68 L356.05 236.33 L355.30 235.97 L354.56 235.62 L353.82 235.26 L353.08 234.91 L352.34 234.55 L351.60 234.19 L350.86 233.83 L350.12 233.47 L349.38 233.10 L348.64 232.74 L347.91 232.37 L347.17 232.01 L346.44 231.64 L345.70 231.27 L344.97 230.90 L344.24 230.53 L343.51 230.16 L342.78 229.79 L342.05 229.42 L341.32 229.04 L340.59 228.67 L339.86 228.29 L339.13 227.91 L338.40 227.53 L337.68 227.15 L336.95 226.77 L336.23 226.39 L335.50 226.00 L334.78 225.62 L334.06 225.23 L333.34 224.85 L332.62 224.46 L331.90 224.07 L331.18 223.68 L330.46 223.29 L329.74 222.89 L329.02 222.50 L328.30 222.11 L327.59 221.71 L326.87 221.31 L326.16 220.91 L325.45 220.51 L324.73 220.11 L324.02 219.71 L323.31 219.31 L322.60 218.90 L321.89 218.50 L321.18 218.09 L320.47 217.68 L319.76 217.28 L319.05 216.87 L318.35 216.45 L317.64 216.04 L316.94 215.63 L316.23 215.21 L315.53 214.80 L314.83 214.38 L314.13 213.96 L313.42 213.54 L312.72 213.12 L312.02 212.70 L311.32 212.28 L310.63 211.85 L309.93 211.43 L309.23 211.00 L308.54 210.57 L307.84 210.14 L307.15 209.71 L306.45 209.28 L305.76 208.85 L305.07 208.42 L304.38 207.98 L303.68 207.55 L302.99 207.11 L302.30 206.67 L301.62 206.23 L300.93 205.79 L300.24 205.35 L299.55 204.91 L298.87 204.46 L298.18 204.02 L297.50 203.57 L296.82 203.12 L296.13 202.67 L295.45 202.22 L294.77 201.77 L294.09 201.32 L293.41 200.87 L292.73 200.41 L292.05 199.95 L291.38 199.50 L290.70 199.04 L290.02 198.58 L289.35 198.12 L288.68 197.66 L288.00 197.19 L287.33 196.73 L286.66 196.26 L285.99 195.80 L285.32 195.33 L284.65 194.86 L283.98 194.39 L283.31 193.92 L282.64 193.45 L281.97 192.97 L281.31 192.50 L280.64 192.02 L279.98 191.54 L279.32 191.06 L278.65 190.58 L277.99 190.10 L277.33 189.62 L276.67 189.14 L276.01 188.65 L275.35 188.17 L274.69 187.68 L274.03 187.19 L273.38 186.71 L272.72 186.22 L272.07 185.72 L271.41 185.23 L270.76 184.74 L270.10 184.24 L269.45 183.75 L268.80 183.25 L268.15 182.75 L267.50 182.25 L266.85 181.75 L266.20 181.25 L265.56 180.75 L264.91 180.25 L264.26 179.74 L263.62 179.24 L262.97 178.73 L262.33 178.22 L261.69 177.71 L261.05 177.20 L260.41 176.69 L259.77 176.18 L259.13 175.67 L258.49 175.15 L257.85 174.64 L257.21 174.12 L256.58 173.60 L255.94 173.08 L255.30 172.56 L254.67 172.04 L254.04 171.52 L253.40 171.00 L252.77 170.47 L252.14 169.95 L251.51 169.42 L250.88 168.90 L250.25 168.37 L249.63 167.84 L249.00 167.31 L248.37 166.78 L247.75 166.25 L247.12 165.71 L246.50 165.18 L245.88 164.65 L245.25 164.11 L244.63 163.57 L244.01 163.04 L243.39 162.50 L242.77 161.96 L242.16 161.42 L241.54 160.88 L240.92 160.33 L240.31 159.79 L239.69 159.25 L239.08 158.70 L238.46 158.16 L237.85 157.61 L237.24 157.06 L236.63 156.51 L236.02 155.97 L235.41 155.42 L234.80 154.87 L234.19 154.31 L233.59 153.76 L232.98 153.21 L232.38 152.66 L231.77 152.10 L231.17 151.55 L230.57 150.99 L229.96 150.43 L229.36 149.88 L228.76 149.32 L228.16 148.76 L227.56 148.20 L226.97 147.64 L226.37 147.08 L225.77 146.52 L225.18 145.96 L224.58 145.39 L223.99 144.83 L223.40 144.27 L222.80 143.70 L222.21 143.14 L221.62 142.57 L221.03 142.01 L220.44 141.44 L219.86 140.87 L219.27 140.31 L218.68 139.74 L218.10 139.17 L217.51 138.60 L216.93 138.03 L216.35 137.46 L215.76 136.89 L215.18 136.32 L214.60 135.75 L214.02 135.18 L213.44 134.61 L212.87 134.04 L212.29 133.47 L211.71 132.89 L211.14 132.32 L210.56 131.75 L209.99 131.18 L209.42 130.60 L208.85 130.03 L208.27 129.46 L207.70 128.88 L207.13 128.31 L206.57 127.74 L206.00 127.16 L205.43 126.59 L204.87 126.02 L204.30 125.44 L203.74 124.87 L203.17 124.29 L202.61 123.72 L202.05 123.15 L201.49 122.57 L200.93 122.00 L200.37 121.43 L199.81 120.86 L199.25 120.28 L198.70 119.71 L198.14 119.14 L197.59 118.57 L197.03 118.00 L196.48 117.42 L195.93 116.85 L195.37 116.28 L194.82 115.71 L194.27 115.14 L193.73 114.58 L193.18 114.01 L192.63 113.44 L192.08 112.87 L191.54 112.31 L190.99 111.74 L190.45 111.17 L189.91 110.61 L189.37 110.05 L188.83 109.48 L188.29 108.92 L187.75 108.36 L187.21 107.80 L186.67 107.24 L186.13 106.68 L185.60 106.12 L185.06 105.56 L184.53 105.01 L184.00 104.45 L183.46 103.90 L182.93 103.35 L182.40 102.79 L181.87 102.24 L181.34 101.70 L180.82 101.15 L180.29 100.60 L179.76 100.06 L179.24 99.51 L178.72 98.97 L178.19 98.43 L177.67 97.89 L177.15 97.35 L176.63 96.82 L176.11 96.28 L175.59 95.75 L175.07 95.22 L174.56 94.69 L174.04 94.16 L173.52 93.64 L173.01 93.11 L172.50 92.59 L171.98 92.07 L171.47 91.55 L170.96 91.04 L170.45 90.52 L169.94 90.01 L169.44 89.50 L168.93 89.00 L168.42 88.49 L167.92 87.99 L167.42 87.49 L166.91 87.00 L166.41 86.50 L165.91 86.01 L165.41 85.52 L164.91 85.03 L164.41 84.55 L163.91 84.07 L163.42 83.59 L162.92 83.11 L162.43 82.64 L161.93 82.17 L161.44 81.71 L160.95 81.24 L160.46 80.78 L159.97 80.33 L159.48 79.87 L158.99 79.42 L158.50 78.98 L158.01 78.54 L157.53 78.10 L157.04 77.66 L156.56 77.23 L156.08 76.80 L155.60 76.38 L155.12 75.96 L154.64 75.54 L154.16 75.13 L153.68 74.72 L153.20 74.31 L152.73 73.91 L152.25 73.52 L151.78 73.13 L151.30 72.74 L150.83 72.36 L150.36 71.98 L149.89 71.60 L149.42 71.24 L148.95 70.87 L148.49 70.51 L148.02 70.16 L147.55 69.81 L147.09 69.46 L146.63 69.13 L146.16 68.79 L145.70 68.46 L145.24 68.14 L144.78 67.82 L144.32 67.51 L143.87 67.20 L143.41 66.90 L142.95 66.61 L142.50 66.32 L142.05 66.03 L141.59 65.76 L141.14 65.49 L140.69 65.22 L140.24 64.96 L139.79 64.71 L139.35 64.46 L138.90 64.22 L138.45 63.99 L138.01 63.76 L137.57 63.54 L137.12 63.33 L136.68 63.13 L136.24 62.93 L135.80 62.74 L135.36 62.55 L134.93 62.37 L134.49 62.20 L134.05 62.04 L133.62 61.89 L133.18 61.74 L132.75 61.60 L132.32 61.47 L131.89 61.35 L131.46 61.23 L131.03 61.12 L130.61 61.03 L130.18 60.93 L129.75 60.85 L129.33 60.78 L128.91 60.71 L128.48 60.66 L128.06 60.61 L127.64 60.57 L127.22 60.54 L126.81 60.52 L126.39 60.51 L125.97 60.51 L125.56 60.51 L125.14 60.53 L124.73 60.56 L124.32 60.59 L123.91 60.64 L123.50 60.70 L123.09 60.76 L122.68 60.84 L122.28 60.93 L121.87 61.02 L121.47 61.13 L121.06 61.25 L120.66 61.38 L120.26 61.51 L119.86 61.66 L119.46 61.83 L119.06 62.00 L118.67 62.18 L118.27 62.37 L117.87 62.58 L117.48 62.80 L117.09 63.03 L116.70 63.27 L116.31 63.52 L115.92 63.78 L115.53 64.06 L115.14 64.35 L114.76 64.65 L114.37 64.96 L113.99 65.29 L113.61 65.63 L113.22 65.98 L112.84 66.34 L112.46 66.72 L112.09 67.11 L111.71 67.51 L111.33 67.92 L110.96 68.35 L110.58 68.79 L110.21 69.25 L109.84 69.72 L109.47 70.20 L109.10 70.70 L108.73 71.21 L108.37 71.73 L108.00 72.27 L107.64 72.82 L107.27 73.39 L106.91 73.97 L106.55 74.57 L106.19 75.18 L105.83 75.80 L105.47 76.44 L105.12 77.10 L104.76 77.76 L104.41 78.45 L104.05 79.15 L103.70 79.86 L103.35 80.59 L103.00 81.34 L102.65 82.10 L102.30 82.88 L101.96 83.67 L101.61 84.48 L101.27 85.30 L100.93 86.14 L100.59 86.99 L100.25 87.86 L99.91 88.75 L99.57 89.66 L99.23 90.58 L98.90 91.51 L98.56 92.46 L98.23 93.43 L97.90 94.42 L97.57 95.42 L97.24 96.44 L96.91 97.48 L96.58 98.53 L96.26 99.60 L95.93 100.68 L95.61 101.78 L95.29 102.90 L94.97 104.04 L94.65 105.19 L94.33 106.37 L94.01 107.55 L93.70 108.76 L93.38 109.98 L93.07 111.22 L92.76 112.48 L92.45 113.75 L92.14 115.04 L91.83 116.35 L91.53 117.68 L91.22 119.02 L90.92 120.38 L90.61 121.76 L90.31 123.15 L90.01 124.56 L89.71 125.99 L89.42 127.44 L89.12 128.90 L88.82 130.38 L88.53 131.88 L88.24 133.40 L87.95 134.93 L87.66 136.48 L87.37 138.05 L87.08 139.63 L86.80 141.23 L86.51 142.85 L86.23 144.49 L85.95 146.14 L85.67 147.81 L85.39 149.49 L85.11 151.19 L84.83 152.91 L84.56 154.65 L84.29 156.40 L84.01 158.16 L83.74 159.95 L83.47 161.75 L83.21 163.56 L82.94 165.39 L82.67 167.24 L82.41 169.10 L82.15 170.98 L81.89 172.87 L81.63 174.78 L81.37 176.70 L81.11 178.64 L80.86 180.59 L80.61 182.56 L80.35 184.54 L80.10 186.53 L79.85 188.54 L79.61 190.56 L79.36 192.60 L79.12 194.65 L78.87 196.71 L78.63 198.78 L78.39 200.87 L78.15 202.97 L77.91 205.08 L77.68 207.20 L77.44 209.34 L77.21 211.48 L76.98 213.64 L76.75 215.80 L76.52 217.98 L76.30 220.17 L76.07 222.36 L75.85 224.57 L75.63 226.78 L75.41 229.01 L75.19 231.24 L74.97 233.48 L74.76 235.72 L74.54 237.98 L74.33 240.24 L74.12 242.50 L73.91 244.78 L73.71 247.05 L73.50 249.34 L73.30 251.62 L73.10 253.92 L72.90 256.21 L72.70 258.51 L72.50 260.81 L72.31 263.11 L72.11 265.42 L71.92 267.73 L71.73 270.03 L71.54 272.34 L71.36 274.64 L71.17 276.95 L70.99 279.25 L70.81 281.55 L70.63 283.85 L70.45 286.15 L70.28 288.44 L70.10 290.72 L69.93 293.01 L69.76 295.28 L69.59 297.55 L69.43 299.81 L69.26 302.06 L69.10 304.30 L68.94 306.54 L68.78 308.76 L68.63 310.98 L68.47 313.18 L68.32 315.36 L68.17 317.54 L68.03 319.70 L67.88 321.85 L67.74 323.98 L67.59 326.09 L67.46 328.18 L67.32 330.26 L67.18 332.32 L67.05 334.35 L66.92 336.37 L66.79 338.36 L66.67 340.33 L66.54 342.27 L66.42 344.19 L66.30 346.08 L66.19 347.94 L66.07 349.78 L65.96 351.58 L65.85 353.35 L65.75 355.09 L65.64 356.80 L65.54 358.47 L65.44 360.10 L65.35 361.70 L65.26 363.25 L65.17 364.76 L65.08 366.23 L65.00 367.66 L64.92 369.04 L64.84 370.37 L64.76 371.64 L64.69 372.87 L64.62 374.04 L64.56 375.15 L64.50 376.20 L64.44 377.18 L64.39 378.10 L64.34 378.94 L64.30 379.70 L64.26 380.38 L64.23 380.96 L64.20 381.44 L64.18 381.79 L64.17 381.97" stroke="#ff0000" stroke-dasharray="10.05 3.55 5.2 3.55" stroke-dashoffset="-0.3"/>
</g>
<g stroke="#000" stroke-width="1.25" fill="none">
<line x1="54.8" y1="360.00" x2="593.1" y2="360.00"/>
<line x1="65.5" y1="43.9" x2="65.5" y2="376.8"/>
</g>
<g stroke="#000" stroke-width="1.1" fill="none">
<line x1="71.83" y1="360.00" x2="71.83" y2="353.90"/>
<line x1="103.75" y1="360.00" x2="103.75" y2="356.30"/>
<line x1="135.67" y1="360.00" x2="135.67" y2="356.30"/>
<line x1="167.58" y1="360.00" x2="167.58" y2="356.30"/>
<line x1="199.50" y1="360.00" x2="199.50" y2="353.90"/>
<line x1="231.42" y1="360.00" x2="231.42" y2="356.30"/>
<line x1="263.33" y1="360.00" x2="263.33" y2="356.30"/>
<line x1="295.25" y1="360.00" x2="295.25" y2="356.30"/>
<line x1="327.17" y1="360.00" x2="327.17" y2="353.90"/>
<line x1="359.08" y1="360.00" x2="359.08" y2="356.30"/>
<line x1="391.00" y1="360.00" x2="391.00" y2="356.30"/>
<line x1="422.92" y1="360.00" x2="422.92" y2="356.30"/>
<line x1="454.83" y1="360.00" x2="454.83" y2="353.90"/>
<line x1="486.75" y1="360.00" x2="486.75" y2="356.30"/>
<line x1="518.67" y1="360.00" x2="518.67" y2="356.30"/>
<line x1="550.58" y1="360.00" x2="550.58" y2="356.30"/>
<line x1="582.50" y1="360.00" x2="582.50" y2="353.90"/>
<line x1="65.5" y1="342.67" x2="69.30" y2="342.67"/>
<line x1="65.5" y1="325.33" x2="69.30" y2="325.33"/>
<line x1="65.5" y1="308.00" x2="69.30" y2="308.00"/>
<line x1="65.5" y1="290.67" x2="72.10" y2="290.67"/>
<line x1="65.5" y1="273.34" x2="69.30" y2="273.34"/>
<line x1="65.5" y1="256.00" x2="69.30" y2="256.00"/>
<line x1="65.5" y1="238.67" x2="69.30" y2="238.67"/>
<line x1="65.5" y1="221.34" x2="72.10" y2="221.34"/>
<line x1="65.5" y1="204.01" x2="69.30" y2="204.01"/>
<line x1="65.5" y1="186.68" x2="69.30" y2="186.68"/>
<line x1="65.5" y1="169.34" x2="69.30" y2="169.34"/>
<line x1="65.5" y1="152.01" x2="72.10" y2="152.01"/>
<line x1="65.5" y1="134.68" x2="69.30" y2="134.68"/>
<line x1="65.5" y1="117.35" x2="69.30" y2="117.35"/>
<line x1="65.5" y1="100.01" x2="69.30" y2="100.01"/>
<line x1="65.5" y1="82.68" x2="72.10" y2="82.68"/>
<line x1="65.5" y1="65.35" x2="69.30" y2="65.35"/>
<line x1="65.5" y1="48.01" x2="69.30" y2="48.01"/>
</g>
<text id="x4" transform="translate(199.50 395.90) scale(1 1.042)" font-size="30.7" text-anchor="middle">4</text>
<text id="x6" transform="translate(327.17 395.90) scale(1 1.042)" font-size="30.7" text-anchor="middle">6</text>
<text id="x8" transform="translate(454.83 395.90) scale(1 1.042)" font-size="30.7" text-anchor="middle">8</text>
<text id="x10" transform="translate(582.50 395.90) scale(1 1.042)" font-size="30.7" text-anchor="middle">10</text>
<text id="y2" transform="translate(60.00 302.67) scale(1 1.042)" font-size="30.7" text-anchor="end">0.02</text>
<text id="y4" transform="translate(60.00 233.34) scale(1 1.042)" font-size="30.7" text-anchor="end">0.04</text>
<text id="y6" transform="translate(60.00 164.01) scale(1 1.042)" font-size="30.7" text-anchor="end">0.06</text>
<text id="y8" transform="translate(60.00 94.68) scale(1 1.042)" font-size="30.7" text-anchor="end">0.08</text>
<text id="lr" transform="translate(606.70 373.60) scale(1.12 1)" font-size="36">r</text>
<text id="lv" transform="translate(47.50 26.80) scale(1 1.08)" font-size="34.8" font-style="italic" stroke="#000" stroke-width="0.45">V</text>
<text id="l1" transform="translate(70.50 32.30) scale(1 1.042)" font-size="26">1</text>
</svg></body></html>
